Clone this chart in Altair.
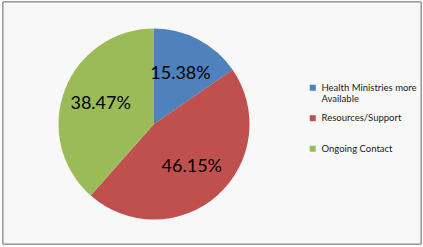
import altair as alt
import pandas as pd

categories = ["Health Ministries more Available", "Resources/Support", "Ongoing Contact"]
values = [15.38, 46.15, 38.47]
labels = ["15.38%", "46.15%", "38.47%"]
colors = ["#4F81BD", "#C0504D", "#9BBB59"]

df = pd.DataFrame({"category": categories, "value": values, "label": labels,
                   "order": [0, 1, 2]})

base = alt.Chart(df).encode(
    theta=alt.Theta("value:Q", stack=True),
    order=alt.Order("order:Q"),
)

color = alt.Color(
    "category:N",
    scale=alt.Scale(domain=categories, range=colors),
    legend=alt.Legend(
        title=None,
        orient="none",
        legendX=305,
        legendY=81,
        symbolType="square",
        symbolSize=36,
        symbolStrokeWidth=0,
        labelFont="Lato",
        labelFontSize=9.5,
        labelColor="#222222",
        labelOffset=4,
        labelBaseline="middle",
        gridAlign="all",
        rowPadding=8.5,
        labelLimit=200,
        labelExpr="datum.label == 'Health Ministries more Available' ? ['Health Ministries more', 'Available'] : datum.label",
    ),
)

border = alt.Chart(df).mark_rect(fill="#f8f8f8", stroke="#8c8c8c", strokeWidth=1).encode(
    x=alt.value(0), x2=alt.value(418), y=alt.value(0), y2=alt.value(242)
)

pie = base.mark_arc(radius=95.5, x=151, y=122).encode(color=color)

text = base.mark_text(radius=57, x=151, y=122, font="Lato", fontSize=18,
                      color="#000000").encode(text="label:N")

chart = (border + pie + text).properties(
    width=418, height=242,
    padding={"left": 3, "top": 2, "right": 2, "bottom": 3},
    autosize=alt.AutoSizeParams(type="none"),
    background="#ffffff",
).configure_view(stroke=None)

chart.save("out.html", embed_options={"renderer": "svg", "actions": False})
